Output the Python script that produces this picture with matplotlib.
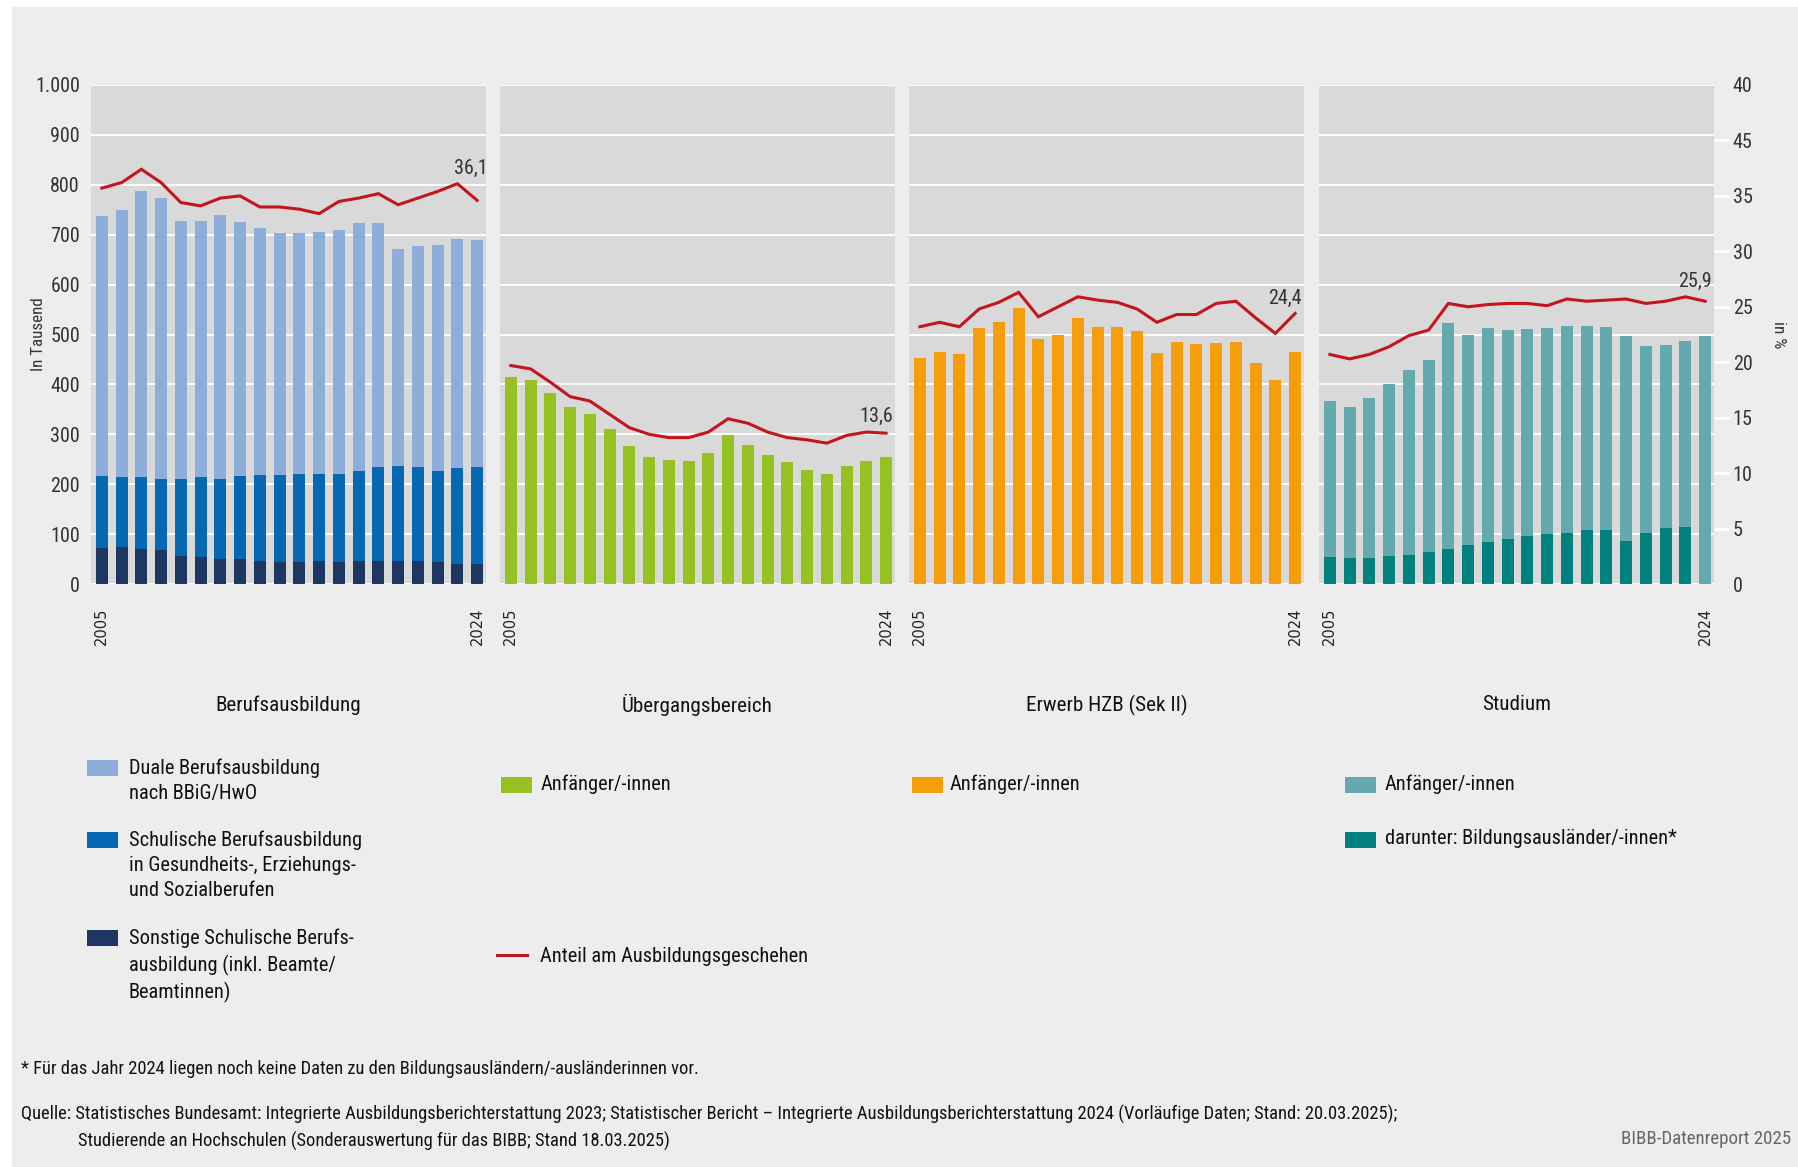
import numpy as np
import matplotlib
matplotlib.use("Agg")
import matplotlib.pyplot as plt
from matplotlib.patches import Rectangle
from matplotlib.lines import Line2D
from matplotlib import font_manager

# ---------------- data ----------------
years = list(range(2005, 2025))
xtick_labels = ["2005", "2024"]
panel_titles = ["Berufsausbildung", "Übergangsbereich", "Erwerb HZB (Sek II)", "Studium"]

# Berufsausbildung (in Tausend)
dual = [521, 535, 574, 563, 518, 514, 528, 509, 495, 485, 484, 486, 490, 497, 488, 435, 442, 452, 459, 454]
schulisch = [143, 140, 144, 143, 154, 160, 161, 166, 172, 173, 175, 174, 176, 180, 189, 191, 189, 182, 191, 194]
sonstige = [73, 74, 70, 68, 56, 54, 50, 50, 47, 45, 45, 46, 44, 46, 46, 46, 46, 45, 41, 41]
# Übergangsbereich
uebergang = [414, 408, 382, 354, 340, 311, 276, 254, 249, 247, 262, 299, 278, 258, 245, 229, 220, 236, 246, 254]
# Erwerb HZB
hzb = [453, 464, 460, 513, 525, 553, 491, 500, 533, 515, 515, 507, 462, 485, 480, 483, 484, 442, 408, 464]
# Studium
studium = [366, 355, 373, 400, 428, 449, 523, 500, 513, 509, 511, 514, 517, 517, 515, 496, 477, 478, 487, 497]
bildungsauslaender = [55, 53, 53, 57, 59, 65, 71, 78, 85, 91, 97, 100, 103, 109, 109, 86, 102, 113, 115, np.nan]

# Anteil am Ausbildungsgeschehen (in %)
anteil_beruf = [35.7, 36.2, 37.4, 36.2, 34.4, 34.1, 34.8, 35.0, 34.0, 34.0, 33.8, 33.4, 34.5, 34.8, 35.2, 34.2, 34.8, 35.4, 36.1, 34.6]
anteil_ueb = [19.7, 19.4, 18.2, 16.9, 16.5, 15.3, 14.1, 13.5, 13.2, 13.2, 13.7, 14.9, 14.5, 13.7, 13.2, 13.0, 12.7, 13.4, 13.7, 13.6]
anteil_hzb = [23.2, 23.6, 23.2, 24.8, 25.4, 26.3, 24.1, 25.0, 25.9, 25.6, 25.4, 24.8, 23.6, 24.3, 24.3, 25.3, 25.5, 24.0, 22.6, 24.4]
anteil_stud = [20.7, 20.3, 20.7, 21.4, 22.4, 22.9, 25.3, 25.0, 25.2, 25.3, 25.3, 25.1, 25.7, 25.5, 25.6, 25.7, 25.3, 25.5, 25.9, 25.5]
anteil_labels = ["36,1", "13,6", "24,4", "25,9"]

left_ticks = [0, 100, 200, 300, 400, 500, 600, 700, 800, 900, 1000]
left_ticklabels = ["0", "100", "200", "300", "400", "500", "600", "700", "800", "900", "1.000"]
right_ticks = [0, 5, 10, 15, 20, 25, 30, 35, 40, 45]
right_ticklabels = ["0", "5", "10", "15", "20", "25", "30", "35", "45", "40"]

# ---------------- style ----------------
avail = {f.name for f in font_manager.fontManager.ttflist}
main_font = "DejaVu Sans"
for cand in ["Liberation Sans Narrow", "Roboto Condensed", "Open Sans Condensed", "Roboto", "Liberation Sans"]:
    if cand in avail:
        main_font = cand
        break
plt.rcParams["font.family"] = [main_font, "DejaVu Sans"]

C_DUAL = "#8DAEDB"
C_SCHUL = "#0668B3"
C_SONST = "#1E3762"
C_GREEN = "#95C123"
C_ORANGE = "#F59D0A"
C_TEAL_L = "#64A9AD"
C_TEAL_D = "#00817E"
C_RED = "#C3161C"
C_PANEL = "#D9D9D9"
C_BG = "#EDEDED"
C_TXT = "#333333"

FS_TICK = 14.5
FS_LEG = 14.7
FS_TITLE = 15.2
FS_NOTE = 13.3

W, H = 1798, 1167
fig = plt.figure(figsize=(W / 100, H / 100), dpi=100)
fig.patch.set_facecolor("white")
fig.add_artist(Rectangle((12 / W, 0), 1 - 12 / W, 1 - 7 / H, transform=fig.transFigure,
                         facecolor=C_BG, edgecolor="none", zorder=-10))


def fx(px):
    return px / W


def fy(py):
    return 1 - py / H


panel_left = [91, 500, 909, 1319]
panel_w = 395
p_top, p_bot = 85, 584
x = np.arange(len(years))
bw = 0.6

series_pct = [anteil_beruf, anteil_ueb, anteil_hzb, anteil_stud]
axes = []
for i, pl in enumerate(panel_left):
    ax = fig.add_axes([fx(pl), fy(p_bot), panel_w / W, (p_bot - p_top) / H])
    ax.set_facecolor(C_PANEL)
    for s in ax.spines.values():
        s.set_visible(False)
    ax.set_xlim(-0.55, len(years) - 0.55)
    ax.set_ylim(0, 1000)
    ax.set_yticks(left_ticks)
    ax.grid(axis="y", color="white", linewidth=1.3)
    ax.set_axisbelow(True)
    ax.set_xticks([0, len(years) - 1])
    ax.set_xticklabels(xtick_labels, rotation=90, fontsize=10.5, color="#222222",
                       family="DejaVu Sans", va="top")
    ax.tick_params(axis="x", length=0, pad=17)
    if i == 0:
        ax.set_yticklabels(left_ticklabels, fontsize=FS_TICK, color=C_TXT)
        ax.tick_params(axis="y", length=0, pad=8)
        ax.set_ylabel("In Tausend", fontsize=12.2, color=C_TXT)
        ax.yaxis.set_label_coords((46 - pl) / panel_w, 0.5)
    else:
        ax.tick_params(axis="y", length=0, labelleft=False)
    axes.append(ax)

# bars
a1, a2, a3, a4 = axes
a1.bar(x, sonstige, bw, color=C_SONST, zorder=2)
a1.bar(x, schulisch, bw, bottom=sonstige, color=C_SCHUL, zorder=2)
bottom2 = np.array(sonstige) + np.array(schulisch)
a1.bar(x, dual, bw, bottom=bottom2, color=C_DUAL, zorder=2)
a2.bar(x, uebergang, bw, color=C_GREEN, zorder=2)
a3.bar(x, hzb, bw, color=C_ORANGE, zorder=2)
a4.bar(x, studium, bw, color=C_TEAL_L, zorder=2)
a4.bar(x, bildungsauslaender, bw, color=C_TEAL_D, zorder=3)

# lines on a percent axis
label_x = [18.7, 18.5, 18.5, 18.5]
for i, ax in enumerate(axes):
    tw = ax.twinx()
    tw.set_ylim(0, 45)
    for s in tw.spines.values():
        s.set_visible(False)
    tw.plot(x, series_pct[i], color=C_RED, linewidth=2.2, zorder=5, solid_joinstyle="miter")
    yv = max(series_pct[i][-2], series_pct[i][-1])
    tw.annotate(anteil_labels[i], xy=(label_x[i], yv), xytext=(0, 11), textcoords="offset points",
                ha="center", va="center", fontsize=FS_TICK, color=C_TXT)
    if i == 3:
        tw.set_yticks(right_ticks)
        tw.set_yticklabels(right_ticklabels, fontsize=FS_TICK, color=C_TXT)
        tw.tick_params(axis="y", length=10.5, width=2.2, color="white", pad=3, direction="out")
        for t in tw.yaxis.get_major_ticks():
            if t.get_loc() in (0, 45):
                t.tick2line.set_visible(False)
        tw.set_ylabel("in %", fontsize=12.5, color=C_TXT, rotation=270, va="center")
        tw.yaxis.set_label_coords((1778 - pl) / panel_w, 0.5)
    else:
        tw.set_yticks([])

# panel titles
for i, t in enumerate(panel_titles):
    cx = panel_left[i] + panel_w / 2
    fig.text(fx(cx), fy(705), t, ha="center", va="center", fontsize=FS_TITLE, color="#111111")


# legends
def patch(px, py, color):
    fig.add_artist(Rectangle((fx(px), fy(py + 16)), 31 / W, 16 / H, transform=fig.transFigure,
                             facecolor=color, edgecolor="none"))


def ltext(px, py, s):
    fig.text(fx(px), fy(py), s, ha="left", va="top", fontsize=FS_LEG, color="#111111", linespacing=1.38)


patch(87, 760, C_DUAL)
ltext(129, 759, "Duale Berufsausbildung\nnach BBiG/HwO")
patch(87, 832, C_SCHUL)
ltext(129, 831, "Schulische Berufsausbildung\nin Gesundheits-, Erziehungs-\nund Sozialberufen")
patch(87, 930, C_SONST)
ltext(129, 929, "Sonstige Schulische Berufs-\nausbildung (inkl. Beamte/\nBeamtinnen)")

patch(501, 777, C_GREEN)
ltext(541, 774, "Anfänger/-innen")
fig.add_artist(Line2D([fx(497), fx(527)], [fy(955), fy(955)], transform=fig.transFigure,
                      color=C_RED, linewidth=2.2))
ltext(540, 947, "Anteil am Ausbildungsgeschehen")

patch(912, 777, C_ORANGE)
ltext(950, 774, "Anfänger/-innen")
patch(1345, 777, C_TEAL_L)
ltext(1385, 774, "Anfänger/-innen")
patch(1345, 832, C_TEAL_D)
ltext(1385, 829, "darunter: Bildungsausländer/-innen*")

# footnotes
fig.text(fx(21), fy(1069), "* Für das Jahr 2024 liegen noch keine Daten zu den Bildungsausländern/-ausländerinnen vor.",
         ha="left", va="center", fontsize=FS_NOTE, color="#111111")
fig.text(fx(21), fy(1114), "Quelle: Statistisches Bundesamt: Integrierte Ausbildungsberichterstattung 2023; "
         "Statistischer Bericht – Integrierte Ausbildungsberichterstattung 2024 (Vorläufige Daten; Stand: 20.03.2025);",
         ha="left", va="center", fontsize=FS_NOTE, color="#111111")
fig.text(fx(78), fy(1141), "Studierende an Hochschulen (Sonderauswertung für das BIBB; Stand 18.03.2025)",
         ha="left", va="center", fontsize=FS_NOTE, color="#111111")
fig.text(fx(1791), fy(1139), "BIBB-Datenreport 2025", ha="right", va="center", fontsize=13.6, color="#666666")

fig.savefig("out.png", dpi=100, facecolor=fig.get_facecolor())
